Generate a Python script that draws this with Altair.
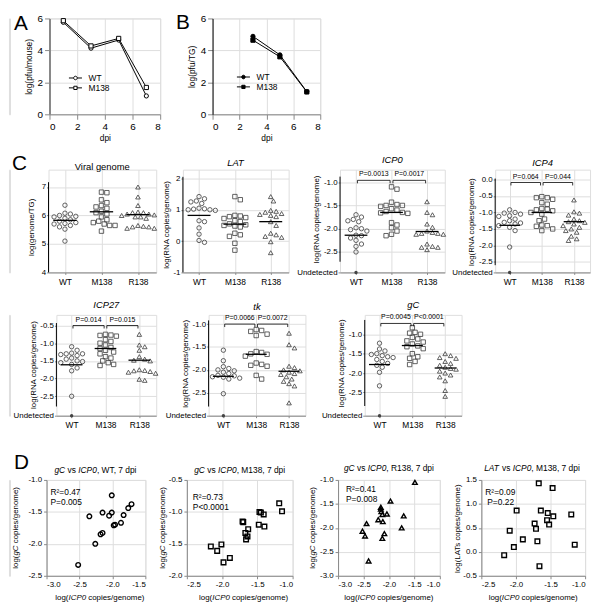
import altair as alt
import pandas as pd

FONT = "Liberation Sans"
GROUPS = ["WT", "M138", "R138"]

# ---------------- data: A / B (log pfu) ----------------
A_dpi = [1, 3, 5, 7]
A_WT = [5.76, 4.14, 4.65, 1.15]
A_M138 = [5.86, 4.28, 4.75, 1.68]
B_dpi = [3, 5, 7]
B_WT = [4.88, 3.72, 1.42]
B_M138 = [4.64, 3.60, 1.40]

# ---------------- data: C (None = undetected) ----------------
VG_WT = [6.36, 6.08, 6.05, 6.0, 5.97, 5.95, 5.9, 5.85, 5.8, 5.75, 5.72, 5.70, 5.65, 5.6, 5.52, 5.1]
VG_M138 = [6.8, 6.82, 6.55, 6.45, 6.35, 6.3, 6.25, 6.15, 6.1, 6.05, 5.95, 5.85, 5.8, 5.75, 5.7, 5.65, 5.65, 5.45]
VG_R138 = [7.0, 6.65, 6.35, 6.12, 6.1, 6.1, 6.05, 6.05, 6.02, 6.0, 5.95, 5.95, 5.9, 5.65, 5.62, 5.6, 5.55, 5.6, 5.55]
VG_MED = [5.83, 6.13, 6.03]

LAT_WT = [1.42, 1.35, 1.28, 1.25, 1.2, 1.05, 1.03, 1.02, 1.0, 1.0, 0.98, 0.65, 0.62, 0.42, 0.22, 0.02, -0.04]
LAT_M138 = [1.42, 1.32, 0.82, 0.8, 0.78, 0.75, 0.72, 0.65, 0.62, 0.55, 0.52, 0.5, 0.48, 0.45, 0.25, 0.2, 0.15, -0.07, -0.29]
LAT_R138 = [1.42, 1.28, 0.98, 0.95, 0.92, 0.88, 0.85, 0.82, 0.78, 0.62, 0.5, 0.25, 0.2, 0.15, 0.12, -0.02, -0.37]
LAT_MED = [0.82, 0.54, 0.62]

ICP0_WT = [-1.70, -1.75, -1.80, -1.83, -1.85, -1.98, -2.0, -2.02, -2.05, -2.14, -2.15, -2.2, -2.25, -2.33, -2.38, -2.5, None]
ICP0_M138 = [-1.10, -1.15, -1.43, -1.48, -1.50, -1.52, -1.50, -1.57, -1.60, -1.63, -1.65, -1.66, -1.67, -1.87, -1.92, -1.98, -2.05, -2.15, -2.12]
ICP0_R138 = [-1.42, -1.65, -1.70, -1.90, -1.97, -2.05, -2.08, -2.10, -2.10, -2.12, -2.12, -2.33, -2.38, -2.40, -2.45, -2.40]
ICP0_MED = [-2.14, -1.65, -2.06]
ICP0_P = ["P=0.0013", "P=0.0017"]

ICP4_WT = [-0.92, -1.0, -1.02, -1.05, -1.1, -1.12, -1.2, -1.25, -1.3, -1.32, -1.35, -1.4, -1.45, -1.55, -2.05, None]
ICP4_M138 = [-0.52, -0.55, -0.55, -0.6, -0.7, -0.75, -0.88, -0.9, -0.92, -0.95, -1.0, -1.05, -1.2, -1.25, -1.38, -1.4, -1.42, -1.5, -1.55]
ICP4_R138 = [-0.62, -0.98, -1.02, -1.08, -1.2, -1.25, -1.28, -1.3, -1.35, -1.4, -1.45, -1.5, -1.55, -1.6, -1.8, -1.85, -1.72]
ICP4_MED = [-1.39, -1.0, -1.28]
ICP4_P = ["P=0.064", "P=0.044"]

ICP27_WT = [-1.1, -1.2, -1.28, -1.3, -1.32, -1.3, -1.35, -1.42, -1.45, -1.5, -1.52, -1.55, -1.6, -1.7, -1.78, -2.5, None]
ICP27_M138 = [-0.75, -0.77, -0.78, -0.8, -0.9, -0.95, -1.0, -1.05, -1.12, -1.15, -1.2, -1.25, -1.3, -1.38, -1.42, -1.5, -1.55, -1.6, -1.63]
ICP27_R138 = [-0.75, -1.05, -1.1, -1.2, -1.38, -1.45, -1.5, -1.75, -1.77, -1.78, -1.8, -1.82, -1.85, -2.05, -2.02, -1.48]
ICP27_MED = [-1.61, -1.15, -1.48]
ICP27_P = ["P=0.014", "P=0.015"]

TK_WT = [-1.57, -1.8, -1.93, -1.97, -2.0, -2.02, -2.05, -2.08, -2.12, -2.13, -2.15, -2.16, -2.18, -2.2, -2.52, None]
TK_M138 = [-1.12, -1.14, -1.16, -1.22, -1.25, -1.6, -1.62, -1.65, -1.66, -1.7, -1.85, -1.88, -1.9, -1.92, -2.12, -2.2]
TK_R138 = [-1.2, -1.45, -1.52, -1.92, -1.95, -2.05, -2.08, -2.1, -2.15, -2.2, -2.25, -2.3, -2.35, -2.72, -2.02, -2.0]
TK_MED = [-2.14, -1.66, -2.03]
TK_P = ["P=0.0066", "P=0.0072"]

GC_WT = [-1.23, -1.38, -1.43, -1.5, -1.52, -1.55, -1.58, -1.6, -1.65, -1.7, -1.75, -1.8, -1.85, -1.98, -2.33, None]
GC_M138 = [-0.83, -0.95, -0.97, -1.0, -1.08, -1.12, -1.17, -1.2, -1.25, -1.3, -1.32, -1.37, -1.5, -1.58, -1.62, -1.7, -1.78]
GC_R138 = [-1.5, -1.55, -1.6, -1.62, -1.7, -1.75, -1.8, -1.85, -1.88, -1.9, -1.95, -2.0, -2.05, -2.1, -2.2, -2.45, -2.6]
GC_MED = [-1.78, -1.29, -1.87]
GC_P = ["P=0.0045", "P<0.0001"]

# ---------------- data: D (ICP0 on x) ----------------
D1_x = [-2.35, -2.15, -2.01, -2.01, -2.05, -1.83, -1.76, -1.71, -1.87, -1.96, -1.98, -2.15, -2.18, -2.26, -2.52]
D1_y = [-1.57, -1.51, -1.24, -1.51, -1.56, -1.55, -1.44, -1.38, -1.67, -1.70, -1.71, -1.83, -1.85, -2.00, -2.33]
D2_x = [-1.19, -1.15, -1.47, -1.45, -1.41, -1.48, -1.40, -1.71, -1.70, -1.63, -1.67, -1.64, -1.66, -2.16, -2.01, -2.07, -1.89, -1.98]
D2_y = [-0.865, -0.99, -1.0, -1.01, -1.04, -1.2, -1.23, -1.15, -1.16, -1.27, -1.33, -1.385, -1.43, -1.54, -1.51, -1.61, -1.72, -1.79]
D3_x = [-1.49, -1.97, -2.16, -2.16, -2.15, -2.13, -2.04, -2.21, -2.12, -1.71, -1.75, -2.44, -2.52, -2.47, -2.09, -2.13, -2.40]
D3_y = [-1.05, -1.44, -1.57, -1.61, -1.66, -1.72, -1.71, -1.83, -1.87, -1.75, -2.0, -1.91, -2.07, -2.17, -2.12, -2.22, -2.69]
D4_x = [-1.67, -1.47, -1.20, -1.15, -1.99, -1.64, -1.54, -1.46, -1.55, -1.52, -1.73, -1.71, -2.09, -1.90, -2.03, -2.17, -1.69, -1.66]
D4_y = [1.43, 1.33, 0.78, 0.15, 0.86, 0.86, 0.81, 0.74, 0.66, 0.57, 0.59, 0.48, 0.44, 0.26, 0.10, -0.07, 0.22, -0.30]
D_STATS = [("R²=0.47", "P=0.005"), ("R²=0.73", "P<0.0001"), ("R²=0.41", "P=0.008"), ("R²=0.09", "P=0.22")]

# ---------------- helpers ----------------
CW = {' ': 278, '(': 333, ')': 333, ',': 278, '-': 333, '.': 278, '/': 278, '<': 584, '=': 584, '²': 333,
      'A': 667, 'C': 722, 'D': 722, 'G': 778, 'I': 278, 'L': 556, 'M': 833, 'N': 722, 'P': 667, 'R': 722,
      'S': 667, 'T': 611, 'U': 722, 'W': 944, 'V': 667,
      'a': 556, 'c': 500, 'd': 556, 'e': 556, 'g': 556, 'i': 222, 'k': 500, 'l': 222, 'm': 833, 'n': 556,
      'o': 556, 'p': 556, 'r': 333, 's': 500, 't': 278, 'u': 556, 'v': 500, 'y': 500}


def tw(s, size):
    return sum(CW.get(ch, 556) for ch in s) * size / 1000.0


def text_layer(t, x, y, size, style="normal", align="left", baseline="middle", angle=0):
    return alt.Chart(pd.DataFrame({"t": [t]})).mark_text(
        font=FONT, fontSize=size, fontStyle=style, fontWeight="normal", align=align, baseline=baseline,
        angle=angle, color="black").encode(text="t:N", x=alt.value(x), y=alt.value(y))


def rich(segs, cx, cy, size, vertical=False):
    total = sum(tw(t, size) for t, _ in segs)
    pos = -total / 2.0
    out = []
    for t, it in segs:
        lead = len(t) - len(t.lstrip(" "))
        start = pos + tw(t[:lead], size)
        s = t.strip(" ")
        if s:
            if vertical:
                out.append(text_layer(s, cx, cy - start, size, "italic" if it else "normal", angle=270))
            else:
                out.append(text_layer(s, cx + start, cy, size, "italic" if it else "normal"))
        pos += tw(t, size)
    return out


def swarm(vals, ppu_y, ppu_x, d=5.0):
    idx = sorted(range(len(vals)), key=lambda i: -vals[i])
    placed, offs = [], [0.0] * len(vals)
    cands = [0.0]
    for j in range(1, 20):
        cands += [j * d * 0.55, -j * d * 0.55]
    for i in idx:
        yy = vals[i] * ppu_y
        for c in cands:
            if all((c - px) ** 2 + (yy - py) ** 2 >= d * d for px, py in placed):
                break
        placed.append((c, yy))
        offs[i] = c / ppu_x
    return offs


# ---------------- panel A / B ----------------
CIRC_LINE = "M-2.2,0L-0.6,0M0.6,0L2.2,0M-0.6,0A0.6,0.6,0,1,1,0.6,0A0.6,0.6,0,1,1,-0.6,0"
SQ_LINE = "M-2.2,0L-0.55,0M0.55,0L2.2,0M-0.55,-0.55L0.55,-0.55L0.55,0.55L-0.55,0.55Z"


def growth(dpi, wt, m, ylab, filled, letter, lxy, legxy, ycol, ywid):
    def mk(w, h):
        df = pd.DataFrame({"dpi": dpi + dpi, "v": wt + m, "strain": ["WT"] * len(dpi) + ["M138"] * len(dpi)})
        ax_x = alt.Axis(values=[0, 2, 4, 6, 8], title="dpi", format="d", titlePadding=3,
                        titleFontWeight="normal", titleFontSize=8.5, labelOverlap=False)
        ax_y = alt.Axis(values=[0, 2, 4, 6], title=ylab, format="d", domainColor=ycol,
                        domainWidth=ywid, titlePadding=4, titleFontWeight="normal", titleFontSize=8.5,
                        labelOverlap=False)
        sc_x = alt.Scale(domain=[0, 8], nice=False)
        sc_y = alt.Scale(domain=[0, 6], nice=False)
        x = alt.X("dpi:Q", scale=sc_x, axis=ax_x)
        y = alt.Y("v:Q", scale=sc_y, axis=ax_y)
        fillc = "black" if filled else "white"
        base = alt.Chart(df)
        line = base.mark_line(color="black", strokeWidth=1).encode(x=x, y=y, detail="strain:N")
        pts = base.mark_point(filled=True, fill=fillc, stroke="black", strokeWidth=1, size=18, opacity=1).encode(
            x=x, y=y, shape=alt.Shape("strain:N", scale=alt.Scale(domain=["WT", "M138"], range=["circle", "square"]),
                                      legend=None))
        leg = base.transform_filter("false").mark_point(filled=True, fill=fillc, stroke="black", strokeWidth=1,
                                                        opacity=1).encode(
            x=x, y=y, shape=alt.Shape("strain:N", scale=alt.Scale(domain=["WT", "M138"], range=[CIRC_LINE, SQ_LINE]),
                                      legend=alt.Legend(title=None, orient="none", legendX=legxy[0],
                                                        legendY=legxy[1], symbolSize=36, labelFontSize=8.5,
                                                        labelFont=FONT, labelOffset=9, rowPadding=1,
                                                        symbolStrokeWidth=1)))
        let = text_layer(letter, lxy[0], lxy[1], 21, baseline="alphabetic")
        return alt.layer(line, pts, leg, let).resolve_scale(shape="independent")
    return mk


# ---------------- panel C (dot plots) ----------------
XMIN, XMAX = -0.45, 2.5
RNA = "log(RNA copies/genome)"
C_CFG = {
    "VG": dict(title="Viral genome", it=False, ylab="log(genome/TG)", vals=[VG_WT, VG_M138, VG_R138], med=VG_MED,
               dom=[4, 7.61], ticks=[4, 5, 6, 7], fmt="d", top=7.17, brk=None, p=None, plev=None, tY=-3, ytx=-17),
    "LAT": dict(title="LAT", it=True, ylab=RNA, vals=[LAT_WT, LAT_M138, LAT_R138], med=LAT_MED,
                dom=[-1, 2.28], ticks=[-1, 0, 1, 2], fmt="d", top=2.05, brk=None, p=None, plev=None, tY=-7,
                ytx=-16),
    "ICP0": dict(title="ICP0", it=True, ylab=RNA, vals=[ICP0_WT, ICP0_M138, ICP0_R138], med=ICP0_MED,
                 dom=[-2.94, -0.73], ticks=[-1, -1.5, -2, -2.5], fmt=".1f", top=-0.88, brk=-2.71, p=ICP0_P,
                 plev=-0.96, tY=-10, ytx=-23),
    "ICP4": dict(title="ICP4", it=True, ylab=RNA, vals=[ICP4_WT, ICP4_M138, ICP4_R138], med=ICP4_MED,
                 dom=[-2.82, 0.30], ticks=[0, -0.5, -1, -1.5, -2, -2.5], fmt=".1f", top=0.03, brk=-2.6, p=ICP4_P,
                 plev=-0.09, tY=-7, ytx=-23),
    "ICP27": dict(title="ICP27", it=True, ylab=RNA, vals=[ICP27_WT, ICP27_M138, ICP27_R138], med=ICP27_MED,
                  dom=[-3.05, -0.20], ticks=[-0.5, -1, -1.5, -2, -2.5], fmt=".1f", top=-0.43, brk=-2.79, p=ICP27_P,
                  plev=-0.5, tY=-10, ytx=-23),
    "tk": dict(title="tk", it=True, ylab=RNA, vals=[TK_WT, TK_M138, TK_R138], med=TK_MED,
               dom=[-3.0, -0.80], ticks=[-1, -1.5, -2, -2.5], fmt=".1f", top=-0.92, brk=-2.8, p=TK_P,
               plev=-1.0, tY=-8, ytx=-23),
    "gC": dict(title="gC", it=True, ylab=RNA, vals=[GC_WT, GC_M138, GC_R138], med=GC_MED,
               dom=[-3.1, -0.5], ticks=[-1, -1.5, -2, -2.5], fmt=".1f", top=-0.63, brk=-2.85, p=GC_P,
               plev=-0.72, tY=-10, ytx=-23),
}
SHAPES = {"WT": "circle", "M138": "square", "R138": "triangle-up"}
TICKF = 8


def dot_panel(key):
    c = C_CFG[key]

    def mk(w, h):
        y0, y1 = c["dom"]
        ppu_y = h / (y1 - y0)
        ppu_x = w / (XMAX - XMIN)
        pts, und = [], []
        for gi, g in enumerate(GROUPS):
            vals = c["vals"][gi]
            det = [v for v in vals if v is not None]
            offs = swarm(det, ppu_y, ppu_x)
            pts += [dict(g=g, x=gi + o, y=v) for v, o in zip(det, offs)]
            und += [dict(g=g, x=float(gi), y=y0) for v in vals if v is None]
        dfp = pd.DataFrame(pts)
        if c["brk"] is not None:
            yvals = list(c["ticks"]) + [y0]
            lexpr = "datum.value < %f ? 'Undetected' : format(datum.value, '%s')" % (y0 + 0.001, c["fmt"])
            ybot = c["brk"]
        else:
            yvals = list(c["ticks"])
            lexpr = "format(datum.value, '%s')" % c["fmt"]
            ybot = y0
        ax_x = alt.Axis(values=[0, 1, 2], labelExpr="['WT','M138','R138'][datum.value]", title=None,
                        labelFontSize=8.5, tickSize=2, labelPadding=3, labelOverlap=False)
        ax_y = alt.Axis(values=yvals, labelExpr=lexpr, title=None, domain=False, tickSize=2,
                        labelPadding=1, labelFontSize=TICKF, labelOverlap=False)
        sc_x = alt.Scale(domain=[XMIN, XMAX], nice=False, zero=False)
        sc_y = alt.Scale(domain=[y0, y1], nice=False, zero=False)

        def X(f):
            return alt.X(f + ":Q", scale=sc_x, axis=ax_x)

        def Y(f):
            return alt.Y(f + ":Q", scale=sc_y, axis=ax_y)

        layers = []
        for g in GROUPS:
            sub = dfp[dfp.g == g]
            layers.append(alt.Chart(sub).mark_point(shape=SHAPES[g], filled=False, color="#3a3a3a", strokeWidth=0.8,
                                                    size=20 if g != "R138" else 22, opacity=1).encode(
                x=X("x"), y=Y("y")))
        if und:
            layers.append(alt.Chart(pd.DataFrame(und)).mark_circle(size=12, color="#444", opacity=1).encode(
                x=X("x"), y=Y("y")))
        med = pd.DataFrame({"x": [i - 0.32 for i in range(3)], "x2": [i + 0.32 for i in range(3)], "y": c["med"]})
        layers.append(alt.Chart(med).mark_rule(color="black", strokeWidth=1.3).encode(
            x=X("x"), x2="x2:Q", y=Y("y")))
        axl = pd.DataFrame({"x": [XMIN], "y": [c["top"]], "y2": [ybot]})
        layers.append(alt.Chart(axl).mark_rule(color="black", strokeWidth=1).encode(
            x=X("x"), y=Y("y"), y2="y2:Q"))
        if c["p"]:
            lev = c["plev"]
            tick = 3.0 / ppu_y
            br = pd.DataFrame({"x": [0.04, 1.04], "x2": [0.96, 1.96], "y": [lev, lev],
                               "xm": [0.5, 1.5], "lab": c["p"]})
            layers.append(alt.Chart(br).mark_rule(color="black", strokeWidth=0.8).encode(
                x=X("x"), x2="x2:Q", y=Y("y")))
            ends = pd.DataFrame({"x": [0.04, 0.96, 1.04, 1.96], "y": [lev] * 4, "y2": [lev - tick] * 4})
            layers.append(alt.Chart(ends).mark_rule(color="black", strokeWidth=0.8).encode(
                x=X("x"), y=Y("y"), y2="y2:Q"))
            layers.append(alt.Chart(br).mark_text(font=FONT, fontSize=7, baseline="middle", dy=-6,
                                                  color="black").encode(x=X("xm"), y=Y("y"), text="lab:N"))
        layers += rich([(c["title"], c["it"])], w / 2.0, c["tY"], 9.5)
        ymid = (h * (y1 - c["top"]) / (y1 - y0) + h * (y1 - ybot) / (y1 - y0)) / 2.0
        layers += rich([(c["ylab"], False)], c["ytx"], ymid, 8, vertical=True)
        return alt.layer(*layers)
    return mk


# ---------------- panel D (scatter) ----------------
def scatter(idx, xs, ys, shape, xdom, ydom, xt, yt, tsegs, ysegs, ytx, tY, xoff, stxy, letter=None):
    def mk(w, h):
        df = pd.DataFrame({"x": xs, "y": ys})
        x = alt.X("x:Q", scale=alt.Scale(domain=xdom, nice=False, zero=False),
                  axis=alt.Axis(values=xt, format=".1f", title=None, tickSize=3, labelPadding=2, labelFontSize=8,
                                labelOverlap=False))
        y = alt.Y("y:Q", scale=alt.Scale(domain=ydom, nice=False, zero=False),
                  axis=alt.Axis(values=yt, format=".1f", title=None, tickSize=3, labelPadding=2, labelFontSize=8,
                                labelOverlap=False))
        layers = [alt.Chart(df).mark_point(shape=shape, filled=False, color="black", strokeWidth=1.4, size=22,
                                           opacity=1).encode(x=x, y=y)]
        layers += rich(tsegs, w / 2.0, tY, 8.5)
        layers += rich(ysegs, ytx, h / 2.0, 8, vertical=True)
        layers += rich([("log(", False), ("ICP0", True), (" copies/genome)", False)], w / 2.0 + xoff, h + 22, 8)
        s1, s2 = D_STATS[idx]
        layers.append(text_layer(s1, stxy[0], stxy[1], 8.5))
        layers.append(text_layer(s2, stxy[2], stxy[1] + 10, 8.5))
        if letter:
            layers.append(text_layer(letter[0], letter[1], letter[2], 21, baseline="alphabetic"))
        return alt.layer(*layers)
    return mk


GCY = [("log(", False), ("gC", True), (" copies/genome)", False)]


def dtitle(a, grp):
    return [(a, True), (" vs ", False), ("ICP0", True), (grp, False)]


def with_letter(fn, letter, lx, ly):
    def mk(w, h):
        return alt.layer(fn(w, h), text_layer(letter, lx, ly, 21, baseline="alphabetic"))
    return mk


# ---------------- layout (reference pixel geometry) ----------------
SX, SY = 0.98, 0.983
X0, Y0 = 3, 8

ROWS = [
    dict(top=11, h=99, B=30, R=4, panels=[
        (43, 114, growth(A_dpi, A_WT, A_M138, "log(pfu/mouse)", False, "A", (-36, 12), (22, 56), "#888", 2)),
        (209, 111, growth(B_dpi, B_WT, B_M138, "log(pfu/TG)", True, "B", (-37, 11), (27, 55), "black", 1))]),
    dict(top=165, h=106, B=16, R=2, panels=[
        (42, 111, with_letter(dot_panel("VG"), "C", -37, 0)),
        (179, 109, dot_panel("LAT")),
        (339, 108, dot_panel("ICP0")),
        (497, 98, dot_panel("ICP4"))]),
    dict(top=313, h=104, B=16, R=2, panels=[
        (50, 103, dot_panel("ICP27")),
        (204, 100, dot_panel("tk")),
        (363, 100, dot_panel("gC"))]),
    dict(top=481, h=99, B=27, R=8, panels=[
        (40, 102, scatter(0, D1_x, D1_y, "circle", [-3, -1.5], [-2.5, -1], [-3, -2.5, -2, -1.5],
                          [-2.5, -2, -1.5, -1], dtitle("gC", ", WT, 7 dpi"), GCY, -31, -10, 4, (4, 12, 4),
                          letter=("D", -33, -11))),
        (183, 109, scatter(1, D2_x, D2_y, "square", [-2.5, -1], [-2, -0.5], [-2.5, -2, -1.5, -1],
                           [-2, -1.5, -1, -0.5], dtitle("gC", ", M138, 7 dpi"), GCY, -24, -10, 4, (6, 17, 6))),
        (337, 105, scatter(2, D3_x, D3_y, "triangle-up", [-3, -1], [-3, -1], [-3, -2.5, -2, -1.5, -1],
                           [-3, -2.5, -2, -1.5, -1], dtitle("gC", ", R138, 7 dpi"), GCY, -25, -12, 0, (8, 9, 8))),
        (483, 107, scatter(3, D4_x, D4_y, "square", [-2.5, -1], [-0.5, 1.5], [-2.5, -2, -1.5, -1],
                           [-0.5, 0, 0.5, 1, 1.5], dtitle("LAT", ", M138,  7 dpi"),
                           [("log(LATs copies/genome)", False)], -24, -12, 0, (4, 12, 6)))]),
]


def bound_layer(L, R, T, B, w, h):
    return alt.Chart(pd.DataFrame({"a": [0]})).mark_rule(opacity=0, strokeOpacity=0).encode(
        x=alt.value(-L), x2=alt.value(w + R), y=alt.value(-T), y2=alt.value(h + B))


rows_out = []
prev_bottom = None
prev_B = None
for ri, row in enumerate(ROWS):
    ty = (row["top"] - Y0) * SY
    hh = int(round(row["h"] * SY))
    if prev_bottom is None:
        T = 5
    else:
        T = int(round(ty - prev_bottom - prev_B))
    B = row["B"]
    cells = []
    cells.append(alt.layer(bound_layer(0, 0, T, B, 1, hh)).properties(width=1, height=hh))
    cur_right = 1
    R = row["R"]
    for left, w, fn in row["panels"]:
        L = int(round((left - X0) * SX)) - cur_right
        W = int(round(w * SX))
        cells.append(alt.layer(fn(W, hh), bound_layer(L, R, T, B, W, hh)).properties(width=W, height=hh))
        cur_right = int(round((left - X0) * SX)) + W + R
    rows_out.append(alt.hconcat(*cells, spacing=0))
    prev_bottom = ty + hh
    prev_B = B

chart = alt.vconcat(*rows_out, spacing=0).properties(
    padding=0
).configure_view(strokeWidth=0, stroke="transparent").configure_axis(
    labelFont=FONT, titleFont=FONT, labelFontSize=8, titleFontSize=8.5, titleFontWeight="normal",
    labelColor="black", titleColor="black", domainColor="black", tickColor="black", grid=False,
    tickSize=3, labelPadding=2, labelFlush=False, labelOverlap=False
).configure(locale={"number": {"decimal": ".", "thousands": ",", "grouping": [3],
                               "currency": ["$", ""], "minus": "-"}})

chart.save("out.html", embed_options={"renderer": "svg", "actions": False})
